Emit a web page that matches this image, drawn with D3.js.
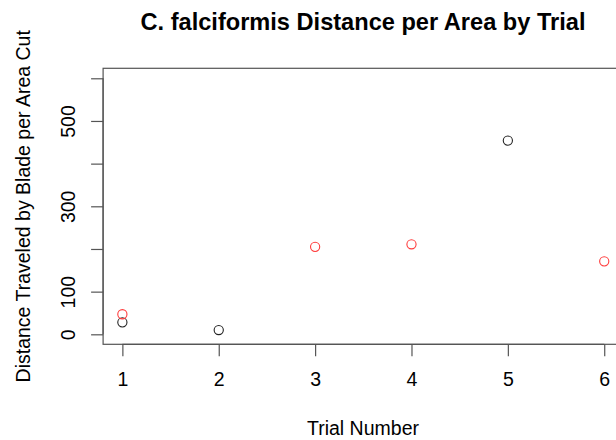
<!DOCTYPE html>
<html>
<head>
<meta charset="utf-8">
<script src="https://cdn.jsdelivr.net/npm/d3@7/dist/d3.min.js"></script>
<style>
  html, body { margin: 0; padding: 0; background: #fff; }
  svg { display: block; font-family: "Liberation Sans", Arial, sans-serif; }
</style>
</head>
<body>
<script>
// Data
const trials = [1, 2, 3, 4, 5, 6];
const blackTrials = [1, 2, 5];
const blackValues = [28, 10, 454];
const redTrials = [1, 3, 4, 6];
const redValues = [47, 205, 211, 171];
const yTicks = [0, 100, 200, 300, 400, 500, 600];
const yTickLabels = ["0", "100", "", "300", "", "500", ""];
const xTickLabels = ["1", "2", "3", "4", "5", "6"];
const titleText = "C. falciformis Distance per Area by Trial";
const xLabel = "Trial Number";
const yLabel = "Distance Traveled by Blade per Area Cut";

const W = 616, H = 440;
const box = { left: 103.1, right: 623.5, top: 68.3, bottom: 344.3 };

const x = d3.scaleLinear().domain([0.8, 6.2]).range([box.left, box.right]);
const y = d3.scaleLinear().domain([-23.4, 623.4]).range([box.bottom, box.top]);

const svg = d3.select("body").append("svg").attr("width", W).attr("height", H);

const axisColor = "#555";

// box
svg.append("rect")
  .attr("x", box.left).attr("y", box.top)
  .attr("width", box.right - box.left).attr("height", box.bottom - box.top)
  .attr("fill", "none").attr("stroke", axisColor).attr("stroke-width", 1.2);

// x axis
const xAxis = d3.axisBottom(x).tickValues(trials).tickSize(12).tickPadding(16)
  .tickFormat((d, i) => xTickLabels[i]);
const gx = svg.append("g").attr("transform", `translate(0,${box.bottom})`).call(xAxis);
gx.select(".domain").attr("d", `M${x(1)},0H${x(6)}`).attr("stroke", axisColor).attr("stroke-width", 1.2);
gx.selectAll(".tick line").attr("stroke", axisColor).attr("stroke-width", 1.2);
gx.selectAll(".tick text").attr("font-size", "19.5px").attr("fill", "#000")
  .attr("font-family", "Liberation Sans, Arial, sans-serif");

// y axis
const yAxis = d3.axisLeft(y).tickValues(yTicks).tickSize(12).tickFormat((d, i) => yTickLabels[i]);
const gy = svg.append("g").attr("transform", `translate(${box.left},0)`).call(yAxis);
gy.select(".domain").attr("d", `M0,${y(0)}V${y(600)}`).attr("stroke", axisColor).attr("stroke-width", 1.2);
gy.selectAll(".tick line").attr("stroke", axisColor).attr("stroke-width", 1.2);
gy.selectAll(".tick text")
  .attr("font-size", "19.5px").attr("fill", "#000")
  .attr("font-family", "Liberation Sans, Arial, sans-serif")
  .attr("x", null).attr("dy", null)
  .attr("text-anchor", "middle")
  .attr("transform", "translate(-28,0) rotate(-90)");

// points
svg.append("g").selectAll("circle.blk")
  .data(blackTrials.map((t, i) => [t, blackValues[i]]))
  .join("circle")
  .attr("cx", d => x(d[0])).attr("cy", d => y(d[1])).attr("r", 4.6)
  .attr("fill", "none").attr("stroke", "#222").attr("stroke-width", 1.1);

svg.append("g").selectAll("circle.red")
  .data(redTrials.map((t, i) => [t, redValues[i]]))
  .join("circle")
  .attr("cx", d => x(d[0])).attr("cy", d => y(d[1])).attr("r", 4.6)
  .attr("fill", "none").attr("stroke", "#ff3b3b").attr("stroke-width", 1.1);

// title
svg.append("text")
  .attr("x", 363).attr("y", 30)
  .attr("text-anchor", "middle")
  .attr("font-size", "23.6px").attr("font-weight", "bold")
  .text(titleText);

// x label
svg.append("text")
  .attr("x", 363).attr("y", 435)
  .attr("text-anchor", "middle")
  .attr("font-size", "19.5px")
  .text(xLabel);

// y label
svg.append("text")
  .attr("transform", `translate(30,${(box.top + box.bottom) / 2}) rotate(-90)`)
  .attr("text-anchor", "middle")
  .attr("font-size", "19.5px")
  .text(yLabel);
</script>
</body>
</html>
